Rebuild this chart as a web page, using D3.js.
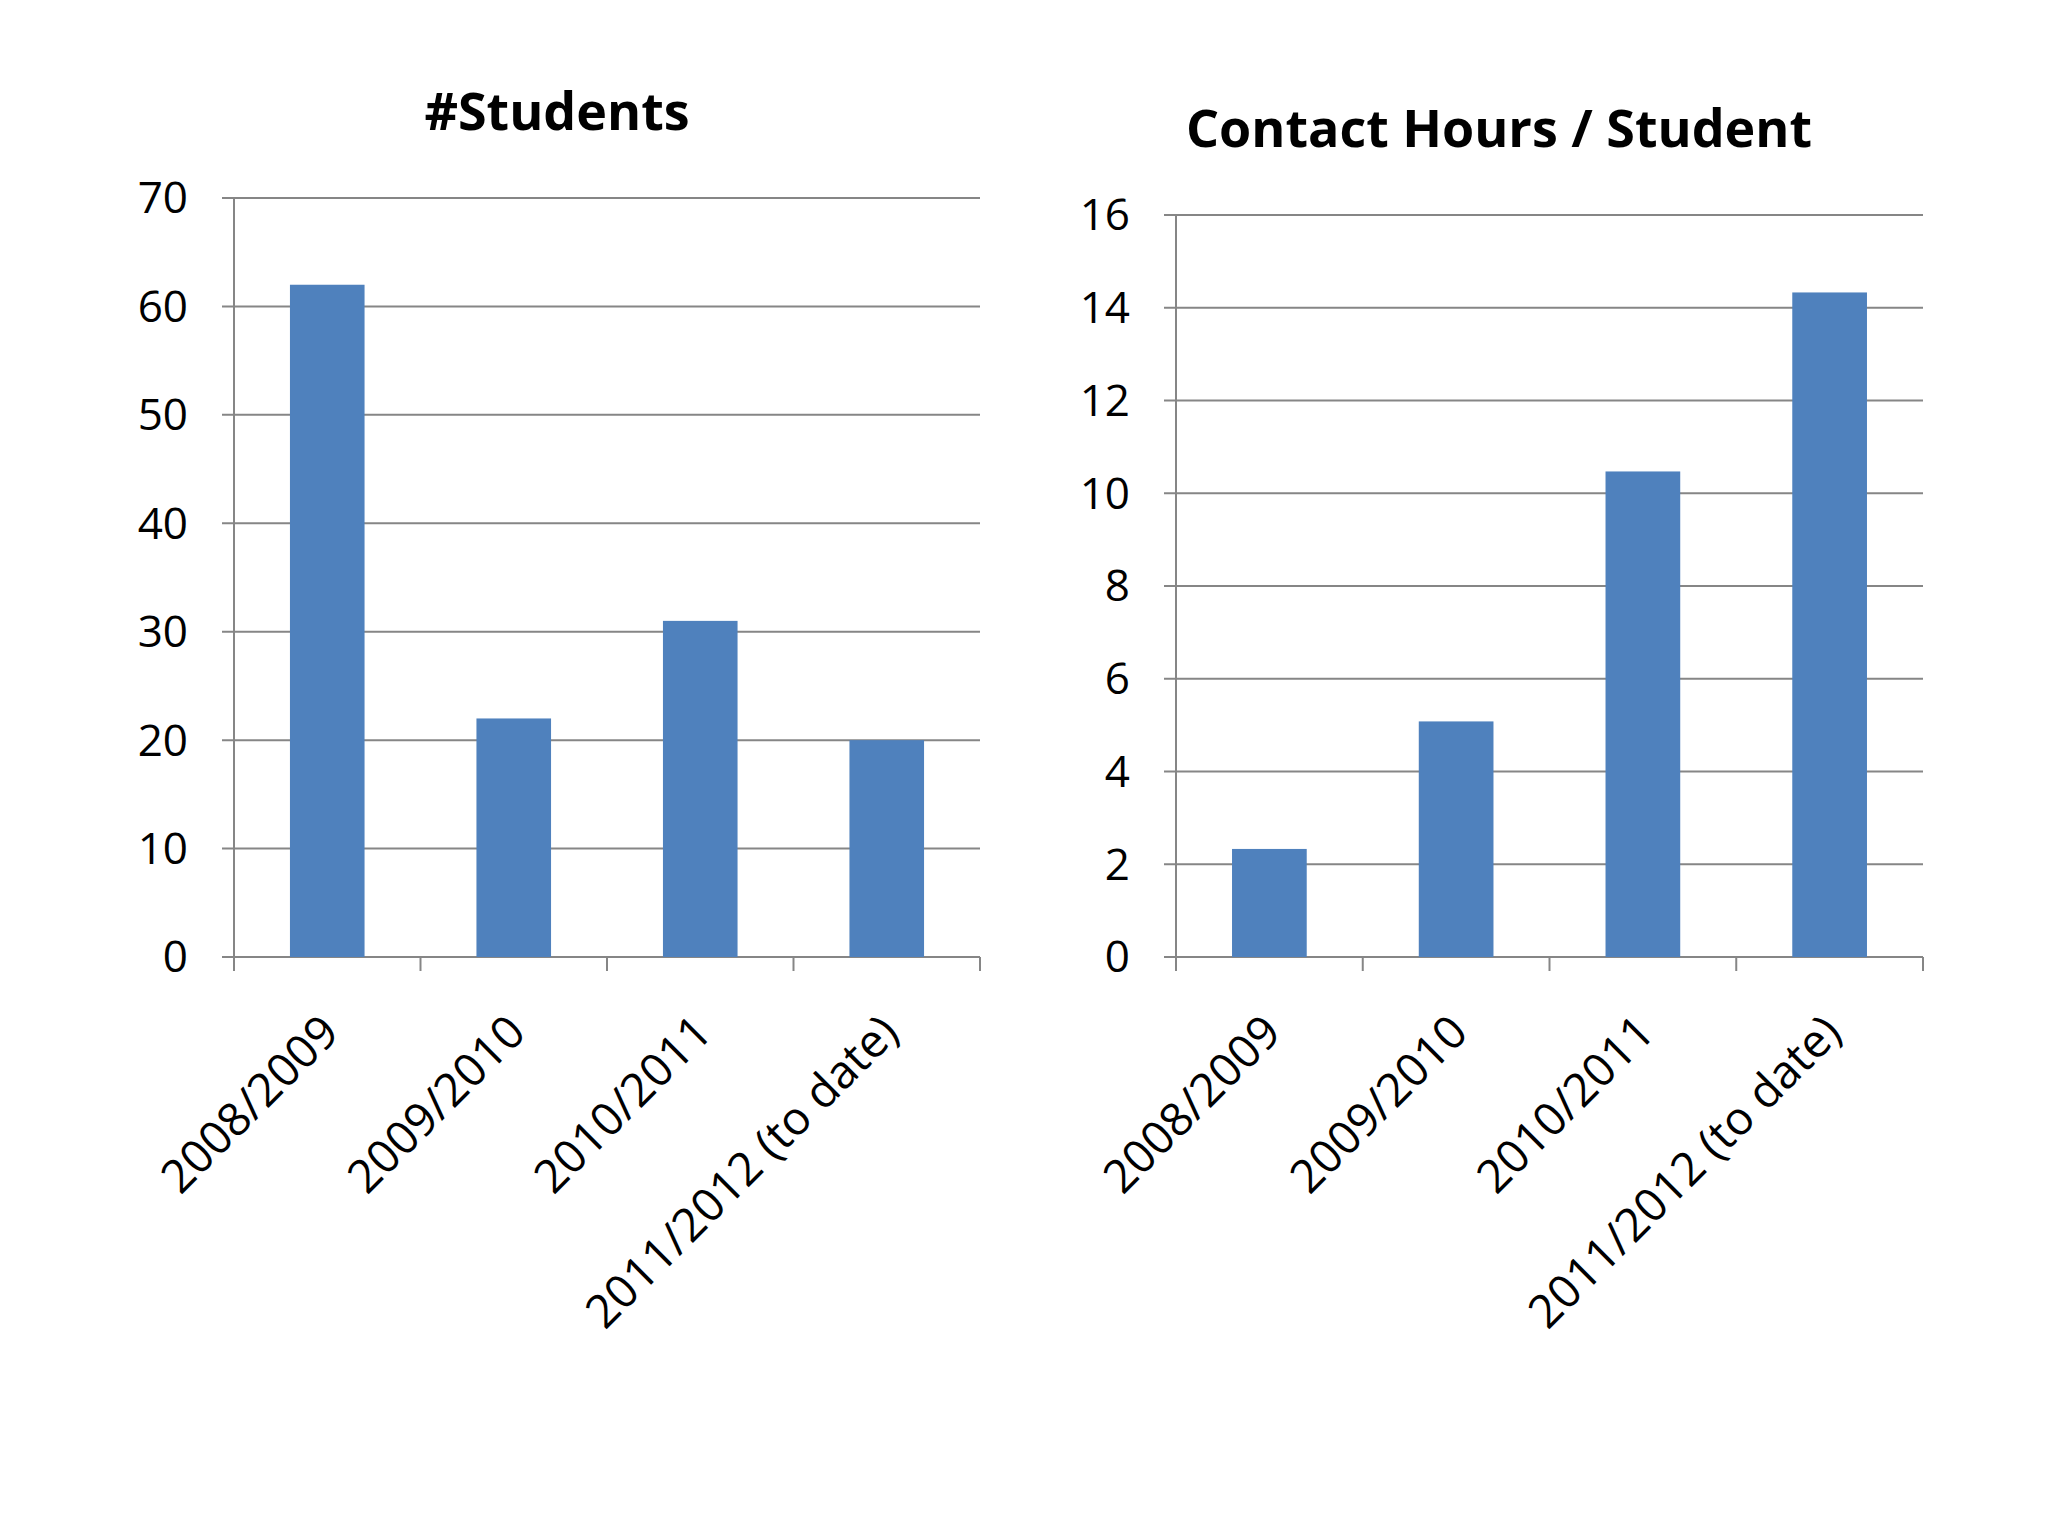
<!DOCTYPE html>
<html>
<head>
<meta charset="utf-8">
<script src="https://d3js.org/d3.v7.min.js"></script>
<style>
  body { margin: 0; background: #fff; }
  text { font-family: "Open Sans", "Noto Sans", sans-serif; }
</style>
</head>
<body>
<svg width="2048" height="1536"></svg>
<script>
const categories = ['2008/2009', '2009/2010', '2010/2011', '2011/2012 (to date)'];
const students = [62, 22, 31, 20];
const contactHours = [2.33, 5.08, 10.47, 14.33];
const studentTicks = [0, 10, 20, 30, 40, 50, 60, 70];
const hourTicks = [0, 2, 4, 6, 8, 10, 12, 14, 16];

const svg = d3.select('svg');

function drawChart(opts) {
  const { left, right, top, bottom, values, ticks, max, title, titleX, titleY } = opts;
  const g = svg.append('g');

  const x = d3.scaleBand().domain(categories).range([left, right]).paddingInner(0.6).paddingOuter(0.3);
  const band = d3.scaleBand().domain(categories).range([left, right]);
  const y = d3.scaleLinear().domain([0, max]).range([bottom, top]);

  // gridlines
  g.selectAll('.grid').data(ticks).join('line')
    .attr('x1', left - 12).attr('x2', right)
    .attr('y1', d => y(d)).attr('y2', d => y(d))
    .attr('stroke', '#868686').attr('stroke-width', 2);

  // y axis line
  g.append('line').attr('x1', left).attr('x2', left).attr('y1', top).attr('y2', bottom)
    .attr('stroke', '#868686').attr('stroke-width', 2);

  // y tick labels
  g.selectAll('.ylab').data(ticks).join('text')
    .attr('x', left - 46).attr('y', d => y(d)).attr('dy', '0.35em')
    .attr('text-anchor', 'end').attr('font-size', 44).attr('fill', '#000')
    .text(d => d);

  // x tick marks
  const edges = categories.map(c => band(c)).concat([right]);
  g.selectAll('.xt').data(edges).join('line')
    .attr('x1', d => d).attr('x2', d => d).attr('y1', bottom).attr('y2', bottom + 14)
    .attr('stroke', '#868686').attr('stroke-width', 2);

  // bars
  g.selectAll('.bar').data(values).join('rect')
    .attr('x', (d, i) => x(categories[i]))
    .attr('width', x.bandwidth())
    .attr('y', d => y(d))
    .attr('height', d => bottom - y(d))
    .attr('fill', '#4f81bd');

  // category labels
  g.selectAll('.xlab').data(categories).join('text')
    .attr('transform', c => `translate(${band(c) + band.bandwidth() / 2 + 14},${bottom + 78}) rotate(-45)`)
    .attr('text-anchor', 'end').attr('font-size', 46).attr('fill', '#000')
    .text(c => c);

  // title
  svg.append('text').attr('x', titleX).attr('y', titleY)
    .attr('text-anchor', 'middle').attr('font-size', 52).attr('font-weight', 'bold')
    .text(title);
}

drawChart({ left: 234, right: 980, top: 198, bottom: 957, values: students, ticks: studentTicks, max: 70, title: '#Students', titleX: 557, titleY: 130 });
drawChart({ left: 1176, right: 1923, top: 215, bottom: 957, values: contactHours, ticks: hourTicks, max: 16, title: 'Contact Hours / Student', titleX: 1499, titleY: 147 });
</script>
</body>
</html>
